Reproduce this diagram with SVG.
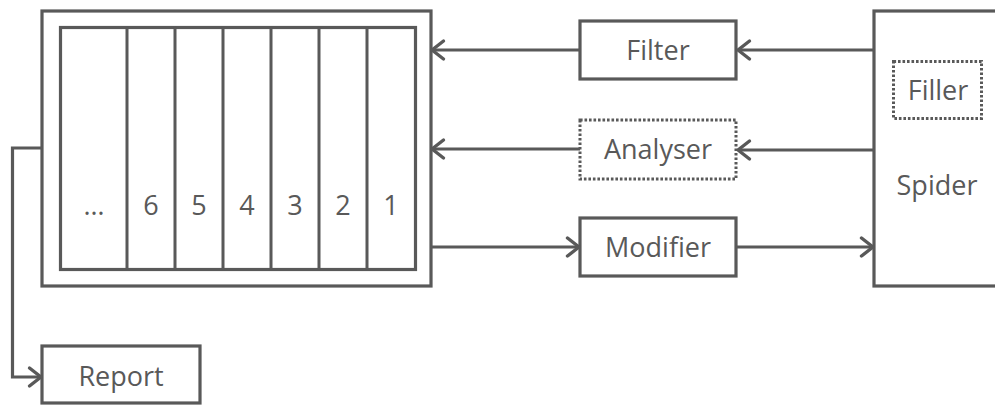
<svg xmlns="http://www.w3.org/2000/svg" width="995" height="405" viewBox="0 0 995 405">
  <style>
    .box { fill: #ffffff; stroke: #595959; stroke-width: 3.2; }
    .dotted { fill: #ffffff; stroke: #595959; stroke-width: 3; stroke-dasharray: 2.6 1.9; }
    .line { fill: none; stroke: #595959; stroke-width: 3; }
    .conn { fill: none; stroke: #595959; stroke-width: 3.2; marker-end: url(#arrow); }
    .label { font-family: "Open Sans", "Liberation Sans", sans-serif; font-size: 27px; fill: #595959; text-anchor: middle; }
  </style>
  <defs>
    <marker id="arrow" markerUnits="userSpaceOnUse" viewBox="-16 -12 20 24" markerWidth="20" markerHeight="24" refX="0" refY="0" orient="auto">
      <path d="M -11.5 -9 L 0 0 L -11.5 9" fill="none" stroke="#595959" stroke-width="3.4" stroke-linecap="round" stroke-linejoin="round"/>
    </marker>
  </defs>

  <!-- queue of numbered slots -->
  <g id="queue">
    <rect class="box" x="42" y="11" width="389" height="275"/>
    <rect class="box" x="60.5" y="27.5" width="355" height="242"/>
    <path class="line" d="M127 27.5V269.5M175 27.5V269.5M223 27.5V269.5M271 27.5V269.5M319 27.5V269.5M367 27.5V269.5"/>
    <text class="label" x="94" y="215">…</text>
    <text class="label" x="151" y="215">6</text>
    <text class="label" x="199" y="215">5</text>
    <text class="label" x="247" y="215">4</text>
    <text class="label" x="295" y="215">3</text>
    <text class="label" x="343" y="215">2</text>
    <text class="label" x="391" y="215">1</text>
  </g>

  <g id="filter">
    <rect class="box" x="580" y="21" width="156" height="58"/>
    <text class="label" x="658" y="60">Filter</text>
  </g>

  <g id="analyser">
    <rect class="dotted" x="580" y="120" width="156" height="59"/>
    <text class="label" x="658" y="159">Analyser</text>
  </g>

  <g id="modifier">
    <rect class="box" x="580" y="218" width="156" height="58"/>
    <text class="label" x="658" y="257">Modifier</text>
  </g>

  <g id="spider">
    <rect class="box" x="874" y="11" width="200" height="275"/>
    <text class="label" x="937" y="195">Spider</text>
  </g>

  <g id="filler">
    <rect class="dotted" x="893.5" y="61.5" width="88" height="57"/>
    <text class="label" x="938" y="100">Filler</text>
  </g>

  <g id="report">
    <rect class="box" x="42" y="346" width="158" height="57"/>
    <text class="label" x="121" y="386">Report</text>
  </g>

  <g id="connectors">
    <path class="conn" d="M874 50H738"/>
    <path class="conn" d="M580 50H432"/>
    <path class="conn" d="M874 150H738"/>
    <path class="conn" d="M580 149H432"/>
    <path class="conn" d="M431 247H579"/>
    <path class="conn" d="M736 247H873"/>
    <path class="conn" d="M42 148H12.5V377H41"/>
  </g>
</svg>
